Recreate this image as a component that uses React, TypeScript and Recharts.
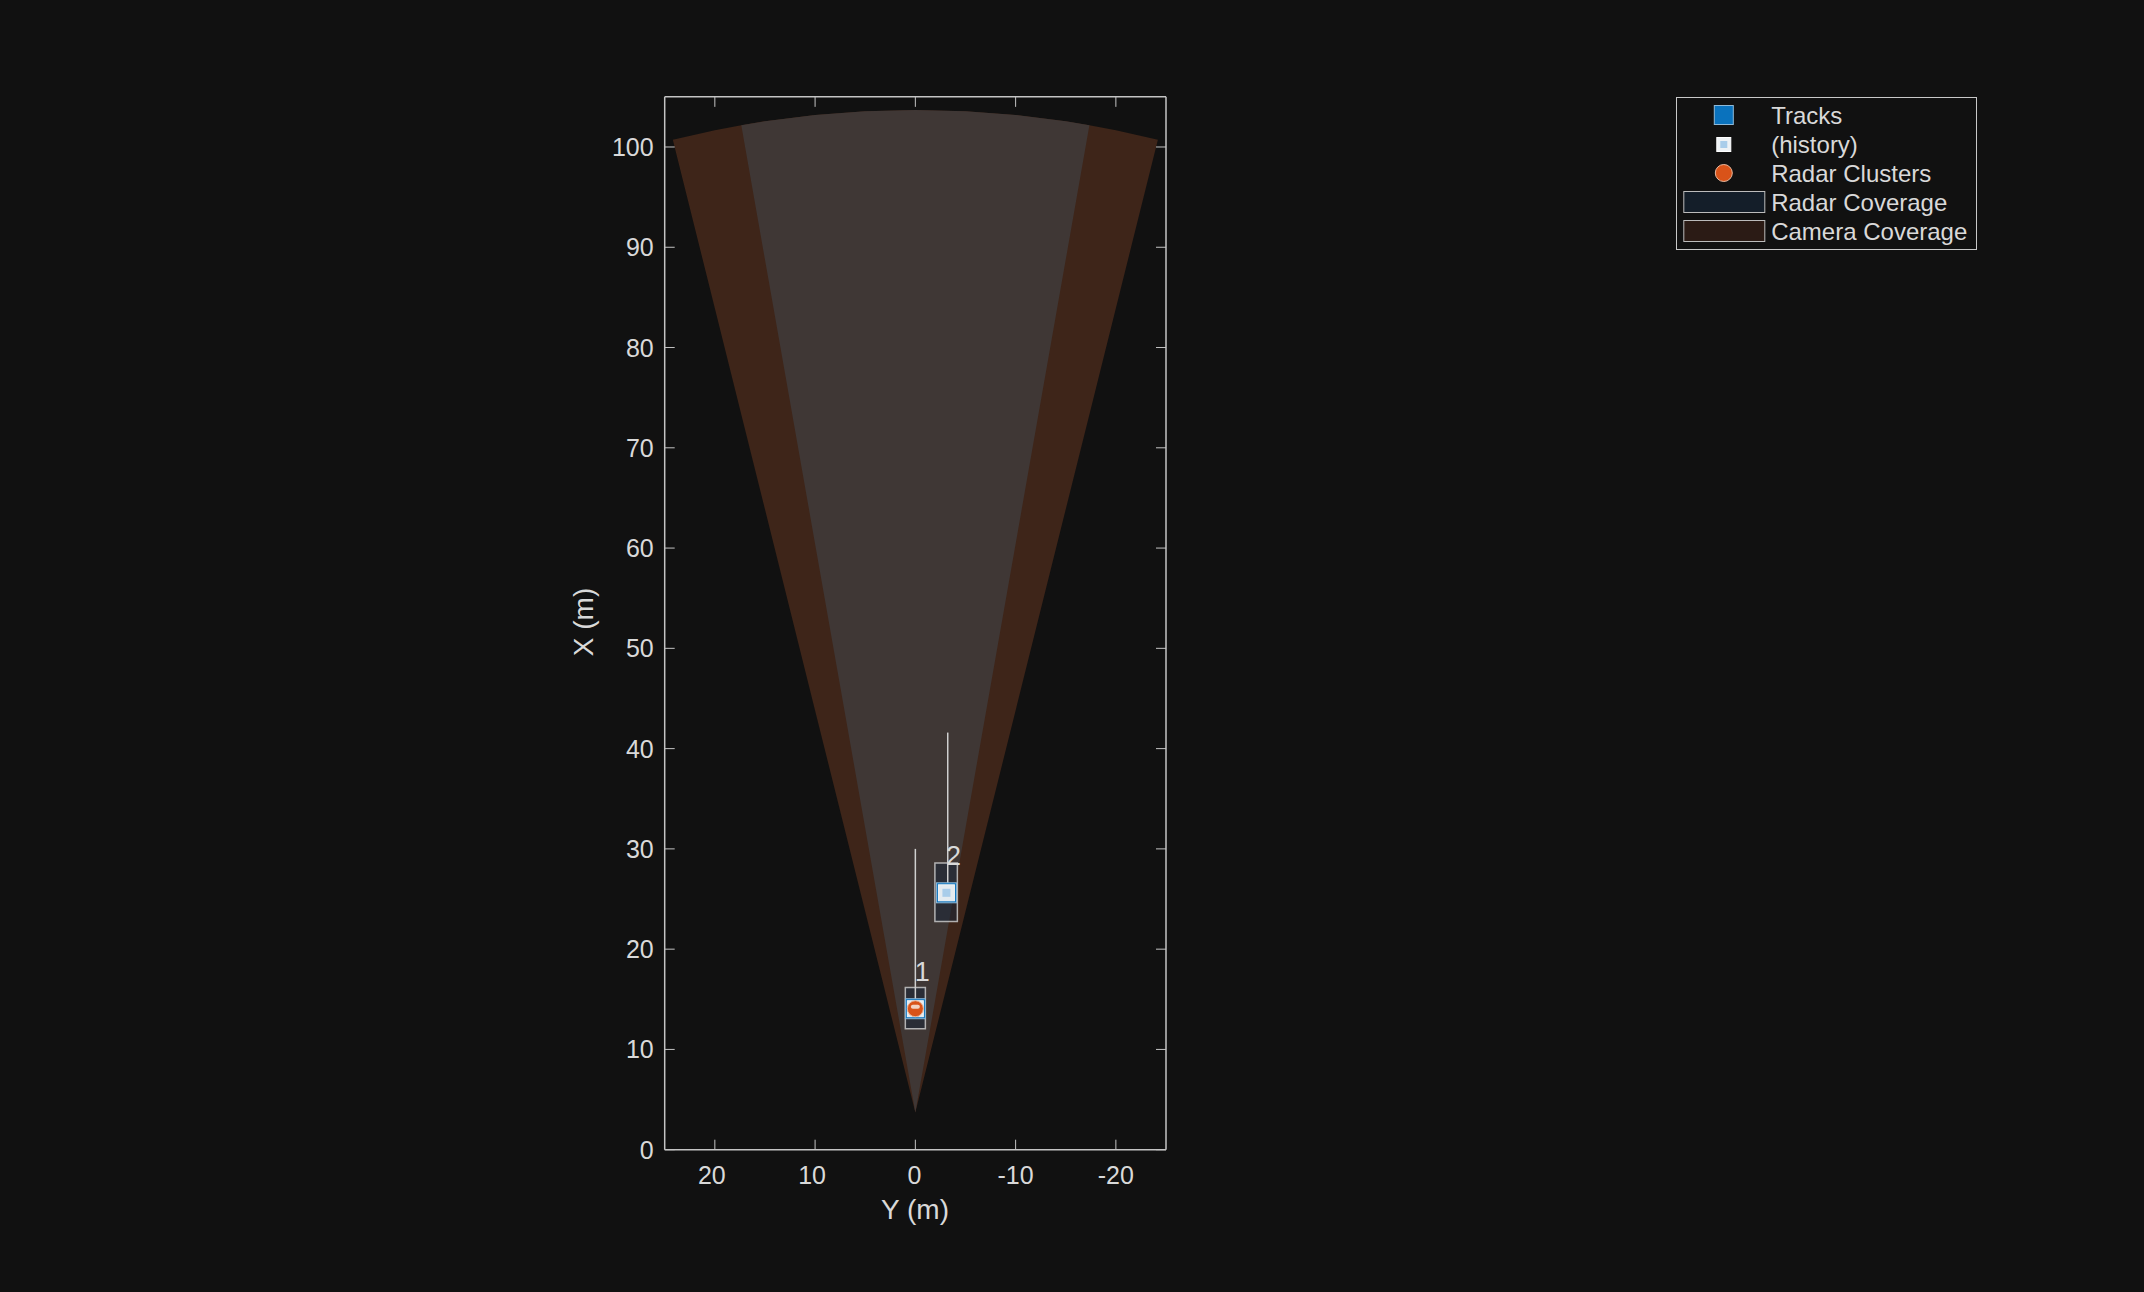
import React from 'react';
import {
  ComposedChart,
  Area,
  Scatter,
  XAxis,
  YAxis,
  ReferenceArea,
  ReferenceLine,
  Label,
} from 'recharts';

// ---------------- data ----------------
// Camera coverage (lateral Y in m, near/far longitudinal X in m)
const cameraLateral = [24.19, 20, 17.36, 15, 10, 5, 0, -5, -10, -15, -17.36, -20, -24.19];
const cameraNear = [100.73, 83.92, 73.33, 63.86, 43.81, 23.75, 3.7, 23.75, 43.81, 63.86, 73.33, 83.92, 100.73];
const cameraFar = [100.73, 101.68, 102.18, 102.57, 103.2, 103.57, 103.7, 103.57, 103.2, 102.57, 102.18, 101.68, 100.73];

// Radar coverage
const radarLateral = [17.36, 15, 10, 5, 0, -5, -10, -15, -17.36];
const radarNear = [102.17, 88.77, 60.41, 32.06, 3.7, 32.06, 60.41, 88.77, 102.17];
const radarFar = [102.17, 102.57, 103.2, 103.57, 103.7, 103.57, 103.2, 102.57, 102.17];

// Tracks
const trackIds = ['1', '2'];
const trackLateral = [0.0, -3.1];
const trackLongitudinal = [14.06, 25.62];

// Track boxes
const boxLateralMin = [-1.0, -4.19];
const boxLateralMax = [1.0, -1.95];
const boxLongMin = [12.06, 22.76];
const boxLongMax = [16.18, 28.58];

// Track history trails
const trailLateral = [0.0, -3.23];
const trailStart = [14.06, 25.62];
const trailEnd = [30.0, 41.6];

// History markers
const historyLateral = [0.0, -3.1];
const historyLongitudinal = [14.06, 25.62];

// Radar clusters
const clusterLateral = [0.0];
const clusterLongitudinal = [14.06];

// Ticks
const xTicks = [20, 10, 0, -10, -20];
const yTicks = [0, 10, 20, 30, 40, 50, 60, 70, 80, 90, 100];

const legendLabels = ['Tracks', '(history)', 'Radar Clusters', 'Radar Coverage', 'Camera Coverage'];

// ---------------- derived tables ----------------
const cameraData = cameraLateral.map((y, i) => ({ y, range: [cameraNear[i], cameraFar[i]] }));
const radarData = radarLateral.map((y, i) => ({ y, range: [radarNear[i], radarFar[i]] }));
const trackData = trackIds.map((id, i) => ({ id, y: trackLateral[i], x: trackLongitudinal[i] }));
const historyData = historyLateral.map((y, i) => ({ y, x: historyLongitudinal[i] }));
const clusterData = clusterLateral.map((y, i) => ({ y, x: clusterLongitudinal[i] }));

// ---------------- layout / style ----------------
const W = 2144;
const H = 1292;
const PLOT_LEFT = 664.7;
const PLOT_RIGHT = 1166;
const PLOT_TOP = 96.85;
const PLOT_BOTTOM = 1149.7;
const TICK_LEN = 10;
const BG = '#111111';
const AXIS = '#c4c4c4';
const TEXT = '#d9d9d9';
const FONT = '"Liberation Sans", Arial, Helvetica, sans-serif';
const CAMERA_FILL = '#3e2519';
const RADAR_FILL = '#3f3735';

const LeftTick = (props: any) => {
  const { y, payload } = props;
  return (
    <g>
      <line x1={PLOT_LEFT} x2={PLOT_LEFT + TICK_LEN} y1={y} y2={y} stroke={AXIS} strokeWidth={1} />
      <text x={PLOT_LEFT - 11} y={y} textAnchor="end" dominantBaseline="central" fill={TEXT} fontSize={25} fontFamily={FONT}>
        {payload.value}
      </text>
    </g>
  );
};

const RightTick = (props: any) => {
  const { y } = props;
  return <line x1={PLOT_RIGHT} x2={PLOT_RIGHT - TICK_LEN} y1={y} y2={y} stroke={AXIS} strokeWidth={1} />;
};

const BottomTick = (props: any) => {
  const { x, payload } = props;
  const dx = payload.value > 0 ? -3 : payload.value === 0 ? -1 : 0;
  return (
    <g>
      <line x1={x} x2={x} y1={PLOT_BOTTOM} y2={PLOT_BOTTOM - TICK_LEN} stroke={AXIS} strokeWidth={1} />
      <text x={x + dx} y={PLOT_BOTTOM + 25} textAnchor="middle" dominantBaseline="central" fill={TEXT} fontSize={25} fontFamily={FONT}>
        {payload.value}
      </text>
    </g>
  );
};

const TopTick = (props: any) => {
  const { x } = props;
  return <line x1={x} x2={x} y1={PLOT_TOP} y2={PLOT_TOP + TICK_LEN} stroke={AXIS} strokeWidth={1} />;
};

const TrackShape = (props: any) => {
  const { cx, cy, payload } = props;
  if (cx == null || cy == null) return <g />;
  return (
    <g>
      <rect x={cx - 10} y={cy - 10} width={20} height={20} fill="#0a72bd" stroke="#8fb9d8" strokeWidth={1} />
      <text x={cx + 7} y={cy - 37} textAnchor="middle" dominantBaseline="central" fill={TEXT} fontSize={27} fontFamily={FONT}>
        {payload.id}
      </text>
    </g>
  );
};

const HistoryShape = (props: any) => {
  const { cx, cy } = props;
  if (cx == null || cy == null) return <g />;
  return (
    <g>
      <rect x={cx - 8} y={cy - 8} width={16} height={16} fill="#e4ebf0" stroke="#f4f4f4" strokeWidth={1} />
      <rect x={cx - 4} y={cy - 4} width={8} height={8} fill="#a9cdea" />
    </g>
  );
};

const ClusterShape = (props: any) => {
  const { cx, cy } = props;
  if (cx == null || cy == null) return <g />;
  return (
    <g>
      <circle cx={cx} cy={cy} r={8} fill="#d95319" stroke="#e9b89e" strokeWidth={1} />
      <rect x={cx - 4.5} y={cy - 4} width={9} height={4} rx={2} fill="#f1d2c2" />
    </g>
  );
};

const Legend = () => {
  const rows = [115, 144.5, 173, 202, 231];
  const left = 1675.5;
  const top = 97;
  const w = 300;
  const h = 152;
  const mx = 1723.3 - left;
  return (
    <svg width={w + 2} height={h + 2} style={{ position: 'absolute', left, top }}>
      <rect x={0.5} y={0.5} width={w} height={h} fill={BG} stroke="#c8c8c8" strokeWidth={1} />
      <rect x={mx - 9.5} y={rows[0] - top - 9.5} width={19} height={19} fill="#0a72bd" stroke="#8fb9d8" strokeWidth={1} />
      <rect x={mx - 7} y={rows[1] - top - 7} width={14} height={14} fill="#eef2f5" stroke="#ffffff" strokeWidth={1} />
      <rect x={mx - 3.5} y={rows[1] - top - 3.5} width={7} height={7} fill="#a9cdea" />
      <circle cx={mx} cy={rows[2] - top} r={8.5} fill="#d95319" stroke="#e9b89e" strokeWidth={1} />
      <rect x={1683.3 - left} y={rows[3] - top - 10.5} width={81} height={21} fill="#141e29" stroke="#bcbcbc" strokeWidth={1} />
      <rect x={1683.3 - left} y={rows[4] - top - 10.5} width={81} height={21} fill="#2b1b15" stroke="#bcbcbc" strokeWidth={1} />
      {legendLabels.map((t, i) => (
        <text key={t} x={1770.7 - left} y={rows[i] - top} dominantBaseline="central" fill={TEXT} fontSize={24} fontFamily={FONT}>
          {t}
        </text>
      ))}
    </svg>
  );
};

export default function App() {
  return (
    <div style={{ position: 'absolute', left: 0, top: 0, width: W, height: H, background: BG, overflow: 'hidden' }}>
      <ComposedChart
        width={W}
        height={H}
        data={cameraData}
        margin={{ left: PLOT_LEFT - 60, right: W - PLOT_RIGHT - 1, top: PLOT_TOP - 1, bottom: H - PLOT_BOTTOM - 60 }}
      >
        <XAxis
          xAxisId={0}
          dataKey="y"
          type="number"
          domain={[-25, 25]}
          allowDataOverflow
          reversed
          ticks={xTicks}
          interval={0}
          height={60}
          axisLine={{ stroke: AXIS, strokeWidth: 1.5 }}
          tickLine={false}
          tick={<BottomTick />}
        >
          <Label
            content={() => (
              <text x={915} y={1209} textAnchor="middle" dominantBaseline="central" fill={TEXT} fontSize={28} fontFamily={FONT}>
                Y (m)
              </text>
            )}
          />
        </XAxis>
        <XAxis
          xAxisId="top"
          orientation="top"
          dataKey="y"
          type="number"
          domain={[-25, 25]}
          allowDataOverflow
          reversed
          ticks={xTicks}
          interval={0}
          height={1}
          axisLine={{ stroke: AXIS, strokeWidth: 1.5 }}
          tickLine={false}
          tick={<TopTick />}
        />
        <YAxis
          yAxisId={0}
          type="number"
          domain={[0, 105]}
          allowDataOverflow
          ticks={yTicks}
          interval={0}
          width={60}
          axisLine={{ stroke: AXIS, strokeWidth: 1.5 }}
          tickLine={false}
          tick={<LeftTick />}
        >
          <Label
            content={() => (
              <text
                x={583}
                y={622}
                textAnchor="middle"
                dominantBaseline="central"
                fill={TEXT}
                fontSize={28}
                fontFamily={FONT}
                transform="rotate(-90 583 622)"
              >
                X (m)
              </text>
            )}
          />
        </YAxis>
        <YAxis
          yAxisId="right"
          orientation="right"
          type="number"
          domain={[0, 105]}
          allowDataOverflow
          ticks={yTicks}
          interval={0}
          width={1}
          axisLine={{ stroke: AXIS, strokeWidth: 1.5 }}
          tickLine={false}
          tick={<RightTick />}
        />

        <Area
          data={cameraData}
          dataKey="range"
          type="linear"
          fill={CAMERA_FILL}
          fillOpacity={1}
          stroke="none"
          dot={false}
          activeDot={false}
          isAnimationActive={false}
        />
        <Area
          data={radarData}
          dataKey="range"
          type="linear"
          fill={RADAR_FILL}
          fillOpacity={1}
          stroke="none"
          dot={false}
          activeDot={false}
          isAnimationActive={false}
        />

        {trackIds.map((id, i) => (
          <ReferenceArea
            key={'box' + id}
            x1={boxLateralMin[i]}
            x2={boxLateralMax[i]}
            y1={boxLongMin[i]}
            y2={boxLongMax[i]}
            fill="#1a2636"
            fillOpacity={0.55}
            stroke="#c8c8c8"
            strokeOpacity={0.85}
            strokeWidth={1.5}
          />
        ))}
        {trackIds.map((id, i) => (
          <ReferenceLine
            key={'trail' + id}
            segment={[
              { x: trailLateral[i], y: trailStart[i] },
              { x: trailLateral[i], y: trailEnd[i] },
            ]}
            stroke="#cfcfcf"
            strokeWidth={1.5}
          />
        ))}

        <Scatter data={trackData} dataKey="x" shape={<TrackShape />} isAnimationActive={false} />
        <Scatter data={historyData} dataKey="x" shape={<HistoryShape />} isAnimationActive={false} />
        <Scatter data={clusterData} dataKey="x" shape={<ClusterShape />} isAnimationActive={false} />
      </ComposedChart>
      <Legend />
    </div>
  );
}
